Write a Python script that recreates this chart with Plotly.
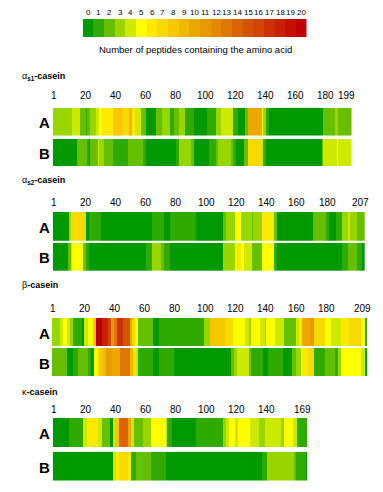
import plotly.graph_objects as go

W, H = 383, 492

# colour levels 0..20
LEVELS = list(range(21))
COLORS = ['#009900', '#2eaa00', '#66bf00', '#99d600', '#ccea00', '#ffff00', '#fbea00',
          '#f9da00', '#f5c800', '#f0b800', '#eca800', '#e89800', '#e38800', '#df7800',
          '#da6400', '#d65400', '#d24400', '#cc3000', '#c82000', '#c41000', '#c00000']
LEGEND_TITLE = "Number of peptides containing the amino acid"

# run-length data: residue where each run ends, and its level
as1_A_end = [13, 18, 22, 23, 25, 29, 31, 33, 40, 47, 51, 53, 55, 59, 62, 69, 73, 78, 81, 84, 88, 94, 103, 109, 112, 120, 123, 128, 130, 139, 140, 142, 144, 180, 188, 190, 199]
as1_A_val = [3, 4, 2, 1, 2, 3, 4, 5, 6, 8, 7, 9, 6, 4, 2, 0, 2, 3, 1, 2, 3, 1, 0, 1, 3, 4, 1, 0, 2, 10, 5, 3, 1, 0, 2, 3, 2]
as1_B_end = [16, 23, 24, 25, 30, 31, 34, 40, 50, 60, 62, 82, 84, 92, 94, 104, 109, 110, 119, 120, 122, 127, 130, 139, 140, 142, 179, 180, 189, 190, 199]
as1_B_val = [0, 2, 1, 0, 2, 4, 3, 2, 1, 2, 1, 0, 1, 3, 2, 0, 1, 2, 3, 2, 1, 0, 2, 7, 4, 1, 0, 2, 4, 5, 4]

as2_A_end = [11, 12, 20, 22, 24, 32, 66, 74, 78, 95, 113, 115, 121, 125, 132, 133, 139, 147, 149, 173, 181, 183, 188, 192, 196, 197, 202, 207]
as2_A_val = [0, 3, 7, 4, 0, 1, 0, 1, 0, 1, 0, 2, 3, 5, 3, 2, 3, 6, 2, 0, 2, 1, 0, 1, 3, 4, 3, 2]
as2_B_end = [10, 12, 13, 20, 22, 24, 62, 66, 72, 74, 78, 113, 121, 122, 125, 127, 132, 139, 147, 149, 192, 196, 202, 205, 207]
as2_B_val = [0, 2, 4, 5, 2, 1, 0, 1, 3, 2, 1, 0, 3, 5, 6, 5, 4, 2, 5, 1, 0, 1, 2, 1, 0]

b_A_end = [5, 7, 10, 12, 14, 20, 21, 24, 27, 29, 33, 37, 39, 41, 43, 47, 52, 53, 55, 57, 67, 71, 101, 105, 115, 120, 128, 131, 132, 138, 141, 142, 148, 154, 162, 164, 166, 171, 174, 181, 185, 192, 197, 205, 208, 209]
b_A_val = [3, 4, 5, 4, 3, 1, 0, 4, 5, 8, 20, 18, 16, 11, 13, 17, 15, 10, 7, 5, 2, 0, 1, 3, 8, 7, 5, 4, 3, 5, 4, 3, 5, 4, 2, 4, 6, 10, 11, 7, 5, 4, 6, 7, 5, 1]
b_B_end = [10, 14, 17, 24, 26, 28, 30, 31, 34, 36, 40, 45, 52, 54, 56, 57, 67, 71, 81, 119, 121, 123, 131, 132, 140, 143, 153, 159, 162, 165, 166, 170, 174, 181, 188, 190, 192, 205, 208, 209]
b_B_val = [2, 0, 1, 2, 1, 0, 5, 6, 8, 9, 11, 10, 13, 9, 6, 4, 1, 0, 1, 0, 2, 3, 4, 2, 1, 0, 1, 0, 2, 3, 5, 6, 7, 1, 2, 1, 3, 5, 4, 0]

k_A_end = [11, 20, 23, 30, 33, 38, 40, 41, 44, 50, 52, 54, 60, 65, 75, 76, 79, 95, 113, 115, 117, 121, 123, 131, 137, 141, 151, 153, 159, 162, 169]
k_A_val = [0, 1, 4, 6, 4, 2, 0, 4, 8, 14, 10, 4, 2, 3, 5, 4, 1, 0, 1, 3, 4, 5, 4, 5, 4, 3, 4, 3, 5, 4, 1]
k_B_end = [40, 42, 44, 50, 52, 55, 65, 75, 139, 142, 151, 160, 161, 168, 169]
k_B_val = [0, 4, 6, 7, 6, 1, 2, 1, 0, 1, 3, 3, 2, 1, 0]

as1_ticks = [1, 20, 40, 60, 80, 100, 120, 140, 160, 180, 199]
as2_ticks = [1, 20, 40, 60, 80, 100, 120, 140, 160, 180, 207]
b_ticks = [1, 20, 40, 60, 80, 100, 120, 140, 160, 180, 209]
k_ticks = [1, 20, 40, 60, 80, 100, 120, 140, 169]

ROW_NAMES = ["A", "B"]


def expand(ends, vals):
    z, prev = [], 0
    for e, v in zip(ends, vals):
        z += [v] * (e - prev)
        prev = e
    return z


# layout geometry (pixels)
panels = [
    dict(title="α<sub><b>s1</b></sub><b>-casein</b>", n=199, x0=52.7, x1=351.7, ty=76, ky=96,
         rows=[(107.7, 135.7), (139.0, 166.0)], data=[(as1_A_end, as1_A_val), (as1_B_end, as1_B_val)], ticks=as1_ticks),
    dict(title="α<sub><b>s2</b></sub><b>-casein</b>", n=207, x0=52.7, x1=365.0, ty=180, ky=202,
         rows=[(212.0, 240.7), (242.7, 271.0)], data=[(as2_A_end, as2_A_val), (as2_B_end, as2_B_val)], ticks=as2_ticks),
    dict(title="β<b>-casein</b>", n=209, x0=52.0, x1=367.3, ty=285, ky=308,
         rows=[(318.0, 346.0), (348.0, 376.0)], data=[(b_A_end, b_A_val), (b_B_end, b_B_val)], ticks=b_ticks),
    dict(title="κ<b>-casein</b>", n=169, x0=52.7, x1=307.3, ty=392, ky=409,
         rows=[(418.0, 447.0), (451.7, 480.7)], data=[(k_A_end, k_A_val), (k_B_end, k_B_val)], ticks=k_ticks),
]

cs = []
for i, c in enumerate(COLORS):
    cs.append([i / 21, c])
    cs.append([(i + 1) / 21, c])


def py(p):
    return 1 - p / H


fig = go.Figure()
layout = dict(width=W, height=H, margin=dict(l=0, r=0, t=0, b=0),
              paper_bgcolor="white", plot_bgcolor="white", showlegend=False)
annotations = []
NARROW = "Liberation Sans Narrow, Arial Narrow, sans-serif"
SANS = "Liberation Sans, Arial, sans-serif"

ax = 0
for p in panels:
    annotations.append(dict(text=p["title"], x=20 / W, y=py(p["ty"]), xref="paper", yref="paper",
                            xanchor="left", yanchor="middle", showarrow=False,
                            font=dict(family=SANS, size=9, color="black")))
    first_ax = None
    for ri, ((top, bot), (ends, vals)) in enumerate(zip(p["rows"], p["data"])):
        ax += 1
        sfx = "" if ax == 1 else str(ax)
        if first_ax is None:
            first_ax = "x" + sfx
        z = expand(ends, vals)
        fig.add_trace(go.Heatmap(z=[z], x=list(range(1, p["n"] + 1)), y=[0],
                                 colorscale=cs, zmin=-0.5, zmax=20.5, showscale=False,
                                 hoverinfo="skip", xaxis="x" + sfx, yaxis="y" + sfx))
        layout["xaxis" + sfx] = dict(domain=[p["x0"] / W, p["x1"] / W], range=[0.5, p["n"] + 0.5],
                                     anchor="y" + sfx, visible=False, fixedrange=True)
        layout["yaxis" + sfx] = dict(domain=[py(bot), py(top)], range=[-0.5, 0.5],
                                     anchor="x" + sfx, visible=False, fixedrange=True)
        annotations.append(dict(text="<b>%s</b>" % ROW_NAMES[ri], x=52 / W, y=py((top + bot) / 2 + 1),
                                xref="paper", yref="paper", xanchor="right", yanchor="middle",
                                showarrow=False, font=dict(family=SANS, size=15, color="black")))
    for ti, t in enumerate(p["ticks"]):
        shift = 0.5 if ti == 0 else (-4 if ti == len(p["ticks"]) - 1 else 3.5)
        annotations.append(dict(text=str(t), x=t, xref=first_ax, y=py(p["ky"]), yref="paper",
                                xanchor="center", yanchor="middle", xshift=shift, showarrow=False,
                                font=dict(family=NARROW, size=10, color="black")))

# colour key
ax += 1
sfx = str(ax)
fig.add_trace(go.Heatmap(z=[LEVELS], x=LEVELS, y=[0], colorscale=cs, zmin=-0.5, zmax=20.5,
                         showscale=False, hoverinfo="skip", xaxis="x" + sfx, yaxis="y" + sfx))
layout["xaxis" + sfx] = dict(domain=[82.7 / W, 306.7 / W], range=[-0.5, 20.5], anchor="y" + sfx,
                             visible=False, fixedrange=True)
layout["yaxis" + sfx] = dict(domain=[py(37), py(19)], range=[-0.5, 0.5], anchor="x" + sfx,
                             visible=False, fixedrange=True)
for lv in LEVELS:
    annotations.append(dict(text=str(lv), x=lv, xref="x" + sfx, y=py(12.7), yref="paper",
                            xanchor="center", yanchor="middle", showarrow=False,
                            font=dict(family=SANS, size=8, color="black")))
annotations.append(dict(text=LEGEND_TITLE, x=195 / W, y=py(50), xref="paper", yref="paper",
                        xanchor="center", yanchor="middle", showarrow=False,
                        font=dict(family=SANS, size=9.5, color="black")))

layout["annotations"] = annotations
fig.update_layout(**layout)
fig.write_html("out.html", config={"displayModeBar": False},
               post_script="document.body.style.margin='0';document.body.style.overflow='hidden';")
